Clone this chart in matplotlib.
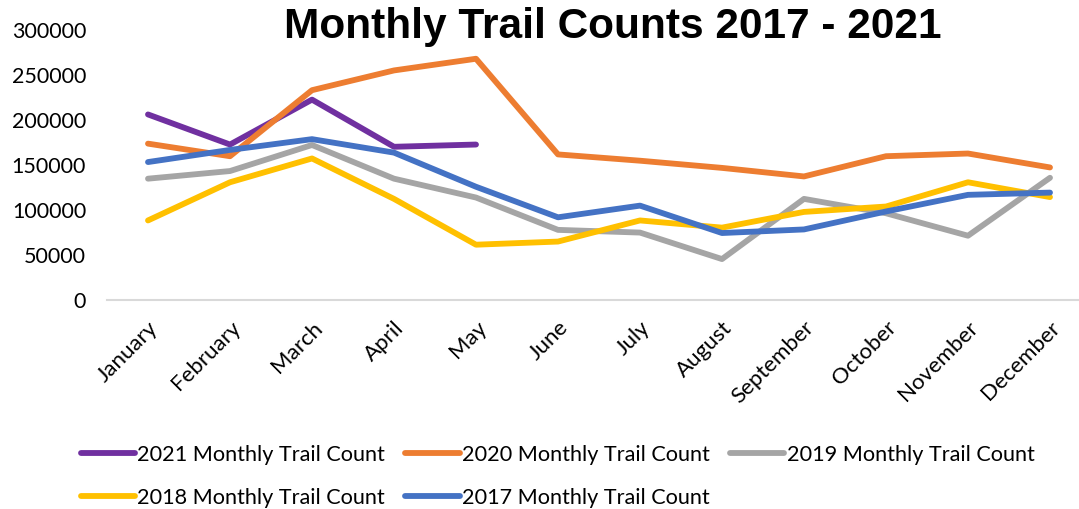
import matplotlib
matplotlib.use("Agg")
import matplotlib.pyplot as plt

months = ["January", "February", "March", "April", "May", "June", "July",
          "August", "September", "October", "November", "December"]

counts_2021 = [206000, 172500, 222500, 170000, 172500]
counts_2020 = [173500, 159500, 233000, 255000, 268000, 161500, 154500, 146500, 137000, 159500, 162500, 147000]
counts_2019 = [134500, 143000, 172000, 134500, 113500, 77500, 74500, 45000, 112000, 96000, 71000, 135500]
counts_2018 = [88000, 130500, 157000, 112000, 61000, 64500, 88000, 80000, 97500, 103500, 130500, 114000]
counts_2017 = [153000, 166500, 178500, 163500, 125500, 91500, 104500, 74000, 78000, 98000, 116500, 119000]

series = [
    ("2021 Monthly Trail Count", counts_2021, "#7030A0"),
    ("2020 Monthly Trail Count", counts_2020, "#ED7D31"),
    ("2019 Monthly Trail Count", counts_2019, "#A5A5A5"),
    ("2018 Monthly Trail Count", counts_2018, "#FFC000"),
    ("2017 Monthly Trail Count", counts_2017, "#4472C4"),
]

plt.rcParams['font.family'] = ['Lato', 'DejaVu Sans']

W, H = 1079, 509
fig = plt.figure(figsize=(W / 100, H / 100), dpi=100)
ax = fig.add_axes([107 / W, (H - 299.5) / H, 984 / W, 269.5 / H])

x = list(range(len(months)))
lines = []
for label, vals, color in series:
    ln, = ax.plot(x[:len(vals)], vals, color=color, lw=4.2, label=label,
                  solid_capstyle='round', solid_joinstyle='round')
    lines.append(ln)

ax.set_xlim(-0.5, 11.5)
ax.set_ylim(0, 300000)
ax.set_yticks(range(0, 300001, 50000))
ax.set_yticklabels([str(v) for v in range(0, 300001, 50000)], fontsize=15.5)
ax.set_xticks(x)
ax.set_xticklabels(months, rotation=45, ha='right', rotation_mode='anchor', fontsize=16)
ax.tick_params(axis='both', length=0)
ax.tick_params(axis='y', pad=15)
ax.tick_params(axis='x', pad=13)
for s in ['top', 'right', 'left']:
    ax.spines[s].set_visible(False)
ax.spines['bottom'].set_color('#D9D9D9')
ax.spines['bottom'].set_linewidth(1.5)
ax.patch.set_alpha(0)

fig.text(613 / W, 1 - 27 / H, "Monthly Trail Counts 2017 - 2021", ha='center', va='center',
         fontsize=30.5, fontweight='bold', family=['Liberation Sans', 'DejaVu Sans'])

# legend filled column-wise: reorder so rows read 2021, 2020, 2019 / 2018, 2017
order = [0, 3, 1, 4, 2]
fig.legend([lines[i] for i in order], [series[i][0] for i in order],
           loc='upper left', bbox_to_anchor=(72 / W, 1 - 436 / H), ncol=3, frameon=False,
           fontsize=15.6, handlelength=2.5, handletextpad=0.1, columnspacing=0.95,
           labelspacing=1.07, borderaxespad=0)

fig.savefig("out.png", dpi=100)
